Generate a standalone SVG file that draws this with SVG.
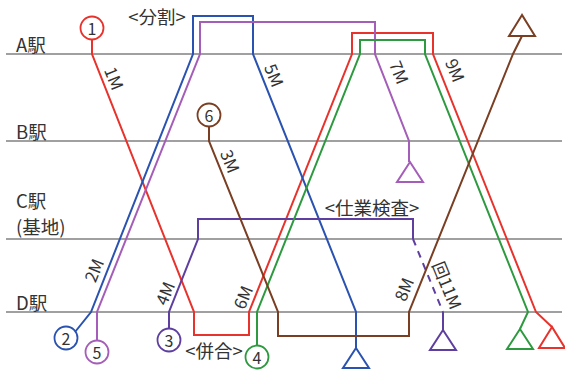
<svg xmlns="http://www.w3.org/2000/svg" width="565" height="374" viewBox="0 0 565 374">
<style>
text{font-family:"Noto Sans CJK JP","Noto Sans",sans-serif;fill:#333;}
.st{font-size:18.5px;}
.lb{font-size:17px;text-anchor:middle;dominant-baseline:central;}
.num{font-size:16px;text-anchor:middle;dominant-baseline:central;}
.grid{stroke:#808080;stroke-width:1.5;fill:none;}
.tr{fill:none;stroke-width:2;stroke-linejoin:miter;}
.circ{fill:#fff;stroke-width:1.8;}
.tri{fill:#fff;stroke-width:2;}
.red{stroke:#e8322c;} .blue{stroke:#2a52b0;} .lpur{stroke:#a45db8;} .dpur{stroke:#5e3fa0;} .green{stroke:#2e9a40;} .brown{stroke:#7a3e22;}
</style>
<rect width="565" height="374" fill="#fff"/>
<g id="stations">
<line class="grid" x1="6" y1="54" x2="562" y2="54"/>
<line class="grid" x1="6" y1="141" x2="562" y2="141"/>
<line class="grid" x1="6" y1="239" x2="562" y2="239"/>
<line class="grid" x1="6" y1="312" x2="562" y2="312"/>
<text class="st" x="16" y="52">A駅</text>
<text class="st" x="16" y="139">B駅</text>
<text class="st" x="16" y="208">C駅</text>
<text class="st" x="16" y="234">(基地)</text>
<text class="st" x="16" y="310">D駅</text>
</g>
<g id="connectors">
<path id="train1" class="tr red" d="M92,40 V54 L194,312 V335 H249 V312 L352,54 V33 H433 V54 L536,312 L552,327"/>
<path id="train2" class="tr blue" d="M75,332 L91,312 L193,54 V16 H253 V54 L356,312 V348"/>
<path id="train5" class="tr lpur" d="M97,340 V312 L200,54 V22 H375 V54 L409,141 V162"/>
<path id="train3" class="tr dpur" d="M169,328 V312 L198,239 V219 H413 V239"/>
<path id="train3b" class="tr dpur" d="M413,239 L443,312" stroke-dasharray="7,6"/>
<path id="train3c" class="tr dpur" d="M443,312 V330"/>
<path id="train4" class="tr green" d="M257,345 V312 L360,54 V40 H425 V54 L528,312 L520,329"/>
<path id="train6" class="tr brown" d="M209,126 V141 L278,312 V336 H409 V312 L513,54 L522,36"/>
</g>
<g id="n1"><circle class="circ red" cx="92" cy="28" r="11.5"/><text class="num" x="92" y="28">1</text></g>
<g id="n2"><circle class="circ blue" cx="66" cy="338" r="11.5"/><text class="num" x="66" y="338">2</text></g>
<g id="n3"><circle class="circ dpur" cx="169" cy="340" r="11.5"/><text class="num" x="169" y="340">3</text></g>
<g id="n4"><circle class="circ green" cx="257" cy="357" r="11.5"/><text class="num" x="257" y="357">4</text></g>
<g id="n5"><circle class="circ lpur" cx="97" cy="352" r="11.5"/><text class="num" x="97" y="352">5</text></g>
<g id="n6"><circle class="circ brown" cx="209" cy="115" r="11.5"/><text class="num" x="209" y="115">6</text></g>
<g id="t2"><polygon class="tri blue" points="356,348 343,368 369,368"/></g>
<g id="t5"><polygon class="tri lpur" points="410,162 397,182 423,182"/></g>
<g id="t3"><polygon class="tri dpur" points="443,330 430,350 456,350"/></g>
<g id="t4"><polygon class="tri green" points="520,329 507,349 533,349"/></g>
<g id="t1"><polygon class="tri red" points="552,327 539,348 565,348"/></g>
<g id="t6"><polygon class="tri brown" points="522,15 509,36 535,36"/></g>
<g id="labels">
<text class="lb" transform="translate(115,78) rotate(68)">1M</text>
<text class="lb" transform="translate(275,75) rotate(68)">5M</text>
<text class="lb" transform="translate(400,72) rotate(68)">7M</text>
<text class="lb" transform="translate(456,70) rotate(68)">9M</text>
<text class="lb" transform="translate(231,161) rotate(68)">3M</text>
<text class="lb" transform="translate(93,270) rotate(-68)">2M</text>
<text class="lb" transform="translate(164,293) rotate(-68)">4M</text>
<text class="lb" transform="translate(242,297) rotate(-68)">6M</text>
<text class="lb" transform="translate(403,289) rotate(-68)">8M</text>
<text class="lb" transform="translate(448,285) rotate(68)">回11M</text>
<text class="st" x="157" y="24" text-anchor="middle">&lt;分割&gt;</text>
<text class="st" x="372" y="215" text-anchor="middle">&lt;仕業検査&gt;</text>
<text class="st" x="214" y="358" text-anchor="middle">&lt;併合&gt;</text>
</g>
</svg>
